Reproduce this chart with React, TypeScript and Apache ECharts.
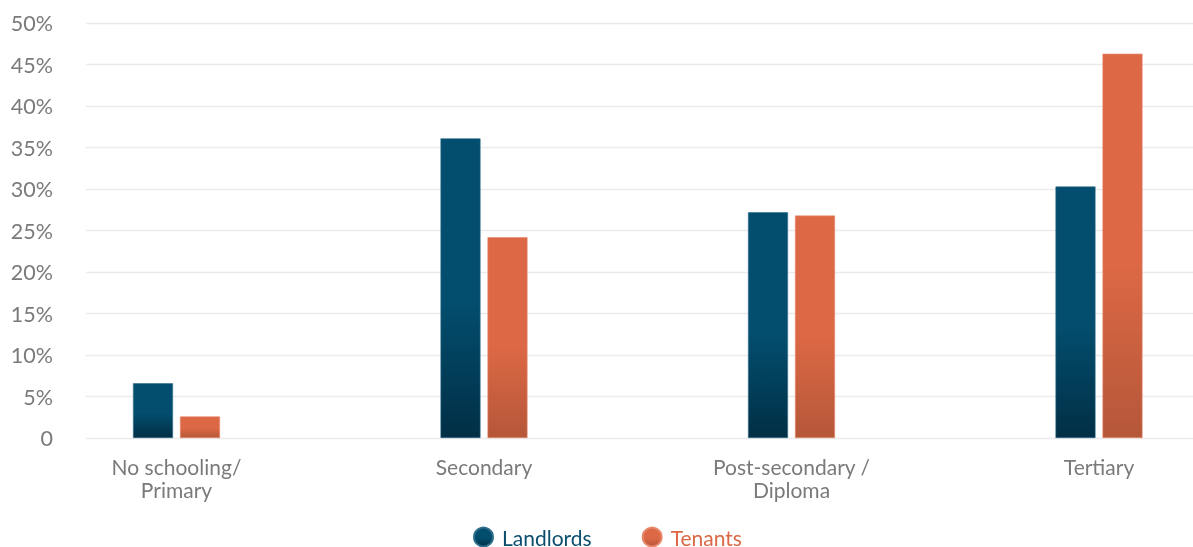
import React, { useEffect, useRef } from "react";
import * as echarts from "echarts";

const categories = ["No schooling/\nPrimary", "Secondary", "Post-secondary /\nDiploma", "Tertiary"];
const landlords = [6.6, 36.1, 27.2, 30.3];
const tenants = [2.6, 24.2, 26.8, 46.3];

export default function App() {
  const ref = useRef<HTMLDivElement>(null);
  useEffect(() => {
    if (!ref.current) return;
    const chart = echarts.init(ref.current, null, { renderer: "svg" });
    const blueGrad = new echarts.graphic.LinearGradient(0, 0, 0, 1, [
      { offset: 0, color: "#034d6e" },
      { offset: 0.55, color: "#034d6e" },
      { offset: 1, color: "#012f45" },
    ]);
    const orangeGrad = new echarts.graphic.LinearGradient(0, 0, 0, 1, [
      { offset: 0, color: "#dd6846" },
      { offset: 0.55, color: "#dc6845" },
      { offset: 1, color: "#b55739" },
    ]);
    chart.setOption({
      animation: false,
      grid: { left: 86, right: 0, top: 23, bottom: 109 },
      legend: {
        top: 526,
        left: 473,
        icon: "circle",
        itemWidth: 19,
        itemHeight: 19,
        itemGap: 50,
        padding: 0,
        textStyle: { fontFamily: "Lato", fontSize: 21, lineHeight: 22, padding: [0, 0, 0, 4] },
        data: [
          { name: "Landlords", textStyle: { color: "#0b4e6e" } },
          { name: "Tenants", textStyle: { color: "#dc6845" } },
        ],
      },
      xAxis: {
        type: "value",
        min: -0.2943,
        max: 3.3057,
        splitLine: { show: false },
        axisLine: { show: false },
        axisTick: { show: false },
        axisLabel: {
          customValues: [0, 1, 2, 3],
          formatter: (v: number) => categories[Math.round(v)] ?? "",
          color: "#7a7a7a",
          fontFamily: "Lato",
          fontSize: 21,
          lineHeight: 23,
          margin: 17,
        },
      },
      yAxis: {
        type: "value",
        min: 0,
        max: 50,
        interval: 5,
        axisLine: { show: false },
        axisTick: { show: false },
        splitLine: { lineStyle: { color: "#ebebeb", width: 1.3 } },
        axisLabel: {
          formatter: (v: number) => (v === 0 ? "0" : v + "%"),
          color: "#7a7a7a",
          fontFamily: "Lato",
          fontSize: 21.5,
          margin: 33,
        },
      },
      series: [
        {
          name: "Landlords",
          type: "bar",
          barWidth: 40,
          barGap: "17.5%",
          data: landlords.map((v, i) => [i, v]),
          itemStyle: { color: blueGrad, borderColor: "#2f6f8c", borderWidth: 0.6 },
        },
        {
          name: "Tenants",
          type: "bar",
          barWidth: 40,
          barGap: "17.5%",
          data: tenants.map((v, i) => [i, v]),
          itemStyle: { color: orangeGrad, borderColor: "#e8896c", borderWidth: 0.6 },
        },
      ],
    });
    return () => chart.dispose();
  }, []);
  return (
    <div
      ref={ref}
      style={{ position: "fixed", left: 0, top: 0, width: 1193, height: 547, overflow: "hidden" }}
    />
  );
}
